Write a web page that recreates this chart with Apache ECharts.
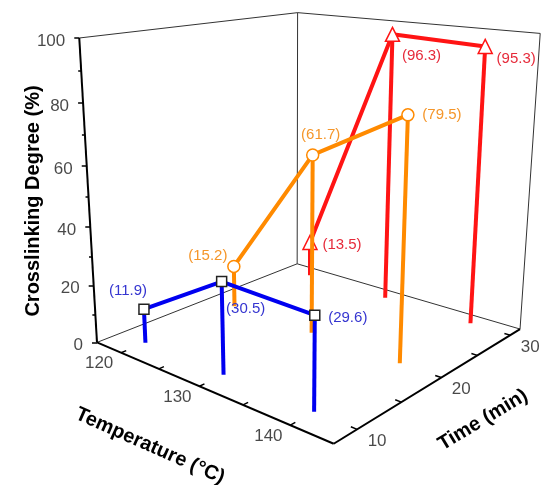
<!DOCTYPE html>
<html><head><meta charset="utf-8">
<script src="https://cdn.jsdelivr.net/npm/echarts@6/dist/echarts.min.js"></script>
<style>html,body{margin:0;padding:0;background:#fff}#c{width:541px;height:485px}</style>
</head><body><div id="c"></div>
<script>
// ---------- data ----------
const temperatures = [120, 130, 140];
const times = [10, 20, 30];
const series10 = [11.9, 30.5, 29.6];
const series20 = [15.2, 61.7, 79.5];
const series30 = [13.5, 96.3, 95.3];
const zTickLabels = [0, 20, 40, 60, 80, 100];
const zMinorTicks = [10, 30, 50, 70, 90];
const tempTickLabels = [120, 130, 140];
const tempMinorTicks = [125, 135];
const timeTickLabels = [10, 20, 30];
const timeMinorTicks = [15, 25];

// ---------- axis ranges ----------
const tempRange = [116.6, 144.25];
const timeRange = [7.56, 31.6];
const zRange = [0, 100];

// ---------- layout: screen position of the 3D box corners (normalized u,v,w) ----------
const boxLayout = [
  [0,0,0, 97,343],[1,0,0,334,443],[1,1,0,520,330],[0,1,0,297,263],
  [0,0,1, 79,38],[0,1,1,298,13],[1,1,1,540,33]
];

// solve a projective camera (DLT, least squares)
function solveCamera(corr){
  const s = 500, n = 11;
  const M = Array.from({length:n},()=>new Array(n+1).fill(0));
  const rows = [];
  corr.forEach(([u,v,w,X,Y])=>{
    const x = X/s, y = Y/s;
    rows.push([[u,v,w,1,0,0,0,0,-x*u,-x*v,-x*w], x]);
    rows.push([[0,0,0,0,u,v,w,1,-y*u,-y*v,-y*w], y]);
  });
  rows.forEach(([a,b])=>{
    for(let i=0;i<n;i++){ for(let j=0;j<n;j++) M[i][j]+=a[i]*a[j]; M[i][n]+=a[i]*b; }
  });
  for(let c=0;c<n;c++){
    let p=c; for(let r=c+1;r<n;r++) if(Math.abs(M[r][c])>Math.abs(M[p][c])) p=r;
    const tmp=M[c]; M[c]=M[p]; M[p]=tmp;
    for(let r=0;r<n;r++){ if(r===c) continue; const f=M[r][c]/M[c][c]; for(let k=c;k<=n;k++) M[r][k]-=f*M[c][k]; }
  }
  const p = M.map((row,i)=>row[n]/row[i]);
  return {p, s};
}
const cam = solveCamera(boxLayout);
function P(T, t, z){
  const u=(T-tempRange[0])/(tempRange[1]-tempRange[0]);
  const v=(t-timeRange[0])/(timeRange[1]-timeRange[0]);
  const w=(z-zRange[0])/(zRange[1]-zRange[0]);
  const p=cam.p, d=p[8]*u+p[9]*v+p[10]*w+1;
  return [cam.s*(p[0]*u+p[1]*v+p[2]*w+p[3])/d, cam.s*(p[4]*u+p[5]*v+p[6]*w+p[7])/d];
}
const T0=tempRange[0], T1=tempRange[1], t0=timeRange[0], t1=timeRange[1], Z1=zRange[1];
const seg=(a,b)=>({coords:[a,b]});
const FONT='"Liberation Sans", Arial, Helvetica, sans-serif';

const series=[];
function linesSeries(data,color,width,z){
  series.push({type:'lines',coordinateSystem:'cartesian2d',polyline:false,silent:true,z:z,
    lineStyle:{color:color,width:width,opacity:1,cap:'butt'},data:data});
}
// thin box edges
linesSeries([
  seg(P(T0,t0,0),P(T0,t1,0)), seg(P(T0,t1,0),P(T1,t1,0)), seg(P(T0,t1,0),P(T0,t1,Z1)),
  seg(P(T0,t0,Z1),P(T0,t1,Z1)), seg(P(T0,t1,Z1),P(T1,t1,Z1)), seg(P(T1,t1,0),P(T1,t1,Z1))
],'#333',1,1);
// axis lines
linesSeries([
  seg(P(T0,t0,0),P(T1,t0,0)), seg(P(T1,t0,0),P(T1,t1,0)), seg(P(T0,t0,0),P(T0,t0,Z1))
],'#000',2,2);
// ticks
const tickSegs=[];
zTickLabels.forEach(z=>{const a=P(T0,t0,z); tickSegs.push(seg(a,[a[0]-5,a[1]]));});
zMinorTicks.forEach(z=>{const a=P(T0,t0,z); tickSegs.push(seg(a,[a[0]-3,a[1]]));});
tempTickLabels.concat(tempMinorTicks).forEach(T=>tickSegs.push(seg(P(T,t0,0),P(T,t0+0.5,0))));
timeTickLabels.concat(timeMinorTicks).forEach(t=>tickSegs.push(seg(P(T1,t,0),P(T1-0.6,t,0))));
linesSeries(tickSegs,'#000',1.5,2);

// tick labels
function textSeries(items, z){
  series.push({type:'scatter',symbolSize:0,silent:true,z:z,
    data:items.map(it=>({name:it.text,value:it.pos,label:{offset:it.off||[0,0],align:it.align||'center'}})),
    label:{show:true,position:'inside',formatter:'{b}',color:'#1a1a1a',fontSize:17,fontFamily:FONT,verticalAlign:'middle'}});
}
textSeries(
  zTickLabels.map(z=>({text:String(z),pos:P(T0,t0,z),off:[-14,3],align:'right'}))
  .concat(tempTickLabels.map(T=>({text:String(T),pos:P(T,t0,0),off:[-22,11]})))
  .concat(timeTickLabels.map(t=>({text:String(t),pos:P(T1,t,0),off:[20,12]}))), 3);

// data series (back to front)
const dataSets=[
  {time:times[2],vals:series30,line:'#ff1414',label:'#e62a3a',symbol:'triangle',size:14,border:'#ff1414',offs:[[32,2],[29,22],[31,12]]},
  {time:times[1],vals:series20,line:'#ff8a00',label:'#f5962a',symbol:'circle',size:12,border:'#ff8a00',offs:[[-26,-11],[8,-20],[34,0]]},
  {time:times[0],vals:series10,line:'#0000f0',label:'#3535d0',symbol:'rect',size:10,border:'#222',offs:[[-16,-18],[24,27],[33,3]]}
];
let zz=10;
dataSets.forEach(ds=>{
  const pts=temperatures.map((T,i)=>P(T,ds.time,ds.vals[i]));
  linesSeries(temperatures.map((T,i)=>seg(pts[i],P(T,ds.time,0))),ds.line,4,zz++);
  series.push({type:'line',data:pts,showSymbol:false,silent:true,z:zz++,clip:false,
    lineStyle:{color:ds.line,width:4}});
  series.push({type:'scatter',symbol:ds.symbol,symbolSize:ds.size,silent:true,z:zz++,clip:false,
    itemStyle:{color:'#fff',borderColor:ds.border,borderWidth:1.5,opacity:1},
    data:pts.map((p,i)=>({value:[p[0],p[1],ds.vals[i]],label:{offset:ds.offs[i]}})),
    label:{show:true,position:'inside',color:ds.label,fontSize:15,fontFamily:FONT,
      formatter:p=>'('+p.value[2].toFixed(1)+')'}});
});

const chart=echarts.init(document.getElementById('c'),null,{renderer:'canvas'});
chart.setOption({
  animation:false,
  backgroundColor:'#fff',
  grid:{left:0,right:0,top:0,bottom:0,containLabel:false},
  xAxis:{type:'value',min:0,max:541,show:false},
  yAxis:{type:'value',min:0,max:485,inverse:true,show:false},
  graphic:[
    {type:'text',x:33,y:201,rotation:Math.PI/2,z:50,
      style:{text:'Crosslinking Degree (%)',font:'bold 20px '+FONT,fill:'#000',align:'center',verticalAlign:'middle',textAlign:'center',textVerticalAlign:'middle'}},
    {type:'text',x:150,y:446,rotation:-24*Math.PI/180,z:50,
      style:{text:'Temperature (°C)',font:'bold 20px '+FONT,fill:'#000',align:'center',verticalAlign:'middle',textAlign:'center',textVerticalAlign:'middle'}},
    {type:'text',x:483,y:420,rotation:31*Math.PI/180,z:50,
      style:{text:'Time (min)',font:'bold 20px '+FONT,fill:'#000',align:'center',verticalAlign:'middle',textAlign:'center',textVerticalAlign:'middle'}}
  ],
  series:series
});
</script></body></html>
